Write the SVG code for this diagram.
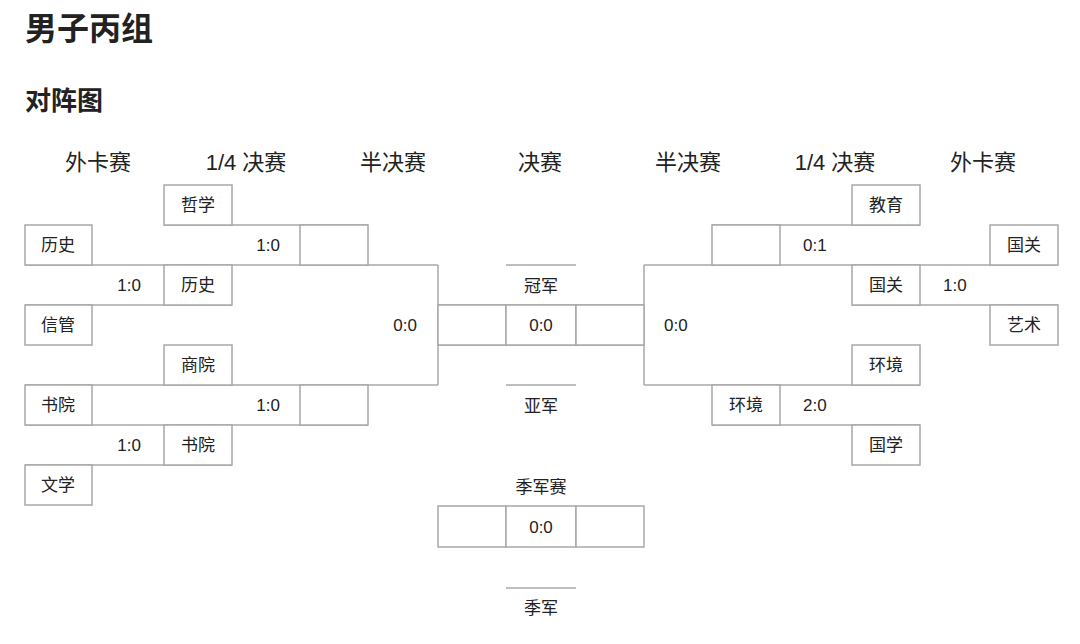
<svg xmlns="http://www.w3.org/2000/svg" width="1080" height="644" viewBox="0 0 1080 644">
<style>
text{font-family:"Liberation Sans","Noto Sans CJK SC",sans-serif;fill:#222}
.t{font-size:17px;text-anchor:middle}
.s{font-size:17px}
.h{font-size:22px;text-anchor:middle}
rect{fill:#fff;stroke:#a8a8a8;stroke-width:1.5}
line,path{stroke:#a8a8a8;stroke-width:1.5;fill:none}
</style>
<rect x="0" y="0" width="1080" height="644" style="stroke:none"/>
<text x="25" y="40" style="font-size:32px;font-weight:bold">男子丙组</text>
<text x="25" y="110" style="font-size:26px;font-weight:bold">对阵图</text>
<g id="headers">
<text class="h" x="98" y="170">外卡赛</text>
<text class="h" x="246" y="170">1/4 决赛</text>
<text class="h" x="393" y="170">半决赛</text>
<text class="h" x="540" y="170">决赛</text>
<text class="h" x="688" y="170">半决赛</text>
<text class="h" x="835" y="170">1/4 决赛</text>
<text class="h" x="983" y="170">外卡赛</text>
</g>
<g id="connectors">
<line x1="164" y1="225" x2="368" y2="225"/>
<line x1="25" y1="265" x2="438" y2="265"/>
<line x1="25" y1="305" x2="232" y2="305"/>
<line x1="25" y1="385" x2="438" y2="385"/>
<line x1="25" y1="425" x2="368" y2="425"/>
<line x1="25" y1="465" x2="232" y2="465"/>
<line x1="438" y1="265" x2="438" y2="385"/>
<line x1="506" y1="265" x2="576" y2="265"/>
<line x1="506" y1="385" x2="576" y2="385"/>
<line x1="438" y1="305" x2="644" y2="305"/>
<line x1="438" y1="345" x2="644" y2="345"/>
<line x1="644" y1="265" x2="644" y2="385"/>
<line x1="712" y1="225" x2="920" y2="225"/>
<line x1="644" y1="265" x2="1058" y2="265"/>
<line x1="852" y1="305" x2="1058" y2="305"/>
<line x1="644" y1="385" x2="920" y2="385"/>
<line x1="712" y1="425" x2="920" y2="425"/>
<line x1="506" y1="588" x2="576" y2="588"/>
</g>
<g id="n-zhexue"><rect x="164" y="185" width="68" height="40"/><text class="t" x="198" y="211">哲学</text></g>
<g id="n-lishi1"><rect x="25" y="225" width="67" height="40"/><text class="t" x="58" y="251">历史</text></g>
<g id="n-sf1"><rect x="300" y="225" width="68" height="40"/></g>
<g id="n-lishi2"><rect x="164" y="265" width="68" height="40"/><text class="t" x="198" y="291">历史</text></g>
<g id="n-xinguan"><rect x="25" y="305" width="67" height="40"/><text class="t" x="58" y="331">信管</text></g>
<g id="n-shangyuan"><rect x="164" y="345" width="68" height="40"/><text class="t" x="198" y="371">商院</text></g>
<g id="n-shuyuan1"><rect x="25" y="385" width="67" height="40"/><text class="t" x="58" y="411">书院</text></g>
<g id="n-sf2"><rect x="300" y="385" width="68" height="40"/></g>
<g id="n-shuyuan2"><rect x="164" y="425" width="68" height="40"/><text class="t" x="198" y="451">书院</text></g>
<g id="n-wenxue"><rect x="25" y="465" width="67" height="40"/><text class="t" x="58" y="491">文学</text></g>
<g id="scores-left">
<text class="s" x="280" y="251" text-anchor="end">1:0</text>
<text class="s" x="141" y="291" text-anchor="end">1:0</text>
<text class="s" x="417" y="331" text-anchor="end">0:0</text>
<text class="s" x="280" y="411" text-anchor="end">1:0</text>
<text class="s" x="141" y="451" text-anchor="end">1:0</text>
</g>
<g id="n-final">
<rect x="438" y="305" width="68" height="40"/><rect x="506" y="305" width="70" height="40"/><rect x="576" y="305" width="68" height="40"/>
<text class="t" x="541" y="331">0:0</text>
<text class="t" x="541" y="292">冠军</text>
<text class="t" x="541" y="412">亚军</text>
</g>
<g id="n-third">
<text class="t" x="541" y="493">季军赛</text>
<rect x="438" y="506" width="68" height="41"/><rect x="506" y="506" width="70" height="41"/><rect x="576" y="506" width="68" height="41"/>
<text class="t" x="541" y="533">0:0</text>
<text class="t" x="541" y="614">季军</text>
</g>
<g id="n-jiaoyu"><rect x="852" y="185" width="68" height="40"/><text class="t" x="886" y="211">教育</text></g>
<g id="n-sf3"><rect x="712" y="225" width="68" height="40"/></g>
<g id="n-guoguan1"><rect x="990" y="225" width="68" height="40"/><text class="t" x="1024" y="251">国关</text></g>
<g id="n-guoguan2"><rect x="852" y="265" width="68" height="40"/><text class="t" x="886" y="291">国关</text></g>
<g id="n-yishu"><rect x="990" y="305" width="68" height="40"/><text class="t" x="1024" y="331">艺术</text></g>
<g id="n-huanjing1"><rect x="852" y="345" width="68" height="40"/><text class="t" x="886" y="371">环境</text></g>
<g id="n-huanjing2"><rect x="712" y="385" width="68" height="40"/><text class="t" x="746" y="411">环境</text></g>
<g id="n-guoxue"><rect x="852" y="425" width="68" height="40"/><text class="t" x="886" y="451">国学</text></g>
<g id="scores-right">
<text class="s" x="803" y="251">0:1</text>
<text class="s" x="943" y="291">1:0</text>
<text class="s" x="664" y="331">0:0</text>
<text class="s" x="803" y="411">2:0</text>
</g>
</svg>
